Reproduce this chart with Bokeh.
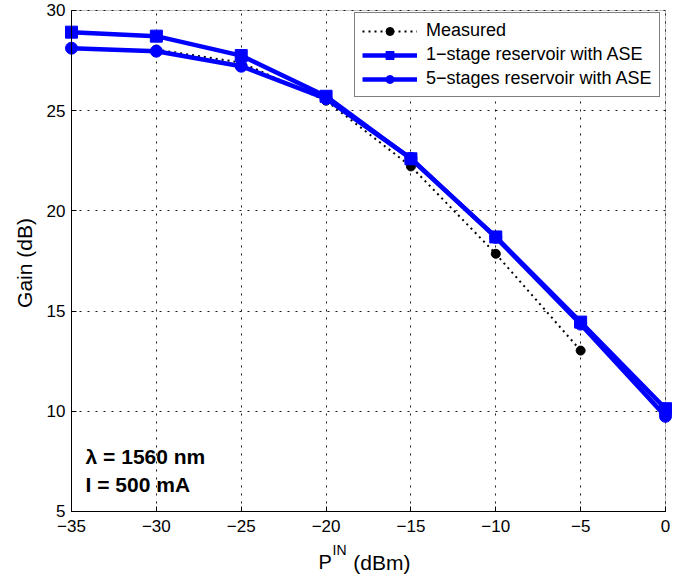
import math
from bokeh.plotting import figure
from bokeh.models import Label, Range1d, FixedTicker, Legend, BoxAnnotation
from bokeh.embed import file_html
from bokeh.resources import INLINE

# ---- data ----
p_in = [-35, -30, -25, -20, -15, -10, -5, 0]
gain_1stage = [28.92, 28.72, 27.75, 25.72, 22.6, 18.7, 14.45, 10.13]
gain_5stage = [28.12, 27.97, 27.22, 25.6, 22.62, 18.68, 14.35, 9.75]
p_meas = [-30, -25, -20, -15, -10, -5]
gain_meas = [28.05, 27.4, 25.5, 22.22, 17.86, 13.03]

x_ticks = [-35, -30, -25, -20, -15, -10, -5, 0]
x_tick_labels = ["\u221235", "\u221230", "\u221225", "\u221220", "\u221215", "\u221210", "\u22125", "0"]
y_ticks = [5, 10, 15, 20, 25, 30]
x_lim = (-35, 0)
y_lim = (5, 30)

FONT = "Liberation Sans"
BLUE = "#0000ff"

# The frame covers the whole page; the axes are pinned at the data limits so that
# the axis labels (one with a superscript) can be placed freely.
p = figure(frame_width=690, frame_height=575, output_backend="svg", toolbar_location=None,
           x_range=Range1d(-39.184, 1.473), y_range=Range1d(1.806, 30.499),
           min_border=0)
p.background_fill_color = "white"
p.border_fill_color = "white"
p.outline_line_color = None

# axes
p.xaxis.ticker = FixedTicker(ticks=x_ticks)
p.yaxis.ticker = FixedTicker(ticks=y_ticks)
p.xaxis.major_label_overrides = {t: l for t, l in zip(x_ticks, x_tick_labels)}
p.xaxis.fixed_location = y_lim[0]
p.yaxis.fixed_location = x_lim[0]
p.xaxis.bounds = x_lim
p.yaxis.bounds = y_lim
for ax in (p.xaxis[0], p.yaxis[0]):
    ax.axis_line_color = "black"
    ax.axis_line_width = 1
    ax.major_tick_in = 5
    ax.major_tick_out = 0
    ax.minor_tick_line_color = None
    ax.major_tick_line_color = "black"
    ax.major_label_text_font = FONT
    ax.major_label_text_font_size = "17px"
    ax.major_label_text_color = "black"
    ax.major_label_standoff = 6
p.xaxis.major_label_standoff = 9

# grid
for g in (p.xgrid[0], p.ygrid[0]):
    g.grid_line_color = "black"
    g.grid_line_dash = "2 6"
    g.grid_line_width = 1
    g.grid_line_alpha = 0.9
p.xgrid.ticker = FixedTicker(ticks=x_ticks)
p.ygrid.ticker = FixedTicker(ticks=y_ticks)
p.xgrid.bounds = x_lim
p.ygrid.bounds = y_lim
p.xgrid.cross_bounds = y_lim
p.ygrid.cross_bounds = x_lim

# top / right edges of the axes box
p.add_layout(BoxAnnotation(left=x_lim[0], right=x_lim[1], bottom=y_lim[0], top=y_lim[1],
                           fill_alpha=0, line_color="#333333", line_width=1, level="underlay"))

# series
m_line = p.line(p_meas, gain_meas, line_color="black", line_width=2, line_dash="2 4")
m_pts = p.scatter(p_meas, gain_meas, marker="circle", size=9, fill_color="black", line_color="black")

s1_line = p.line(p_in, gain_1stage, line_color=BLUE, line_width=4.5)
s1_pts = p.scatter(p_in, gain_1stage, marker="square", size=12, fill_color=BLUE, line_color=BLUE)

s5_line = p.line(p_in, gain_5stage, line_color=BLUE, line_width=4.5)
s5_pts = p.scatter(p_in, gain_5stage, marker="circle", size=12, fill_color=BLUE, line_color=BLUE)

legend = Legend(items=[
    ("Measured", [m_line, m_pts]),
    ("1\u2212stage reservoir with ASE", [s1_line, s1_pts]),
    ("5\u2212stages reservoir with ASE", [s5_line, s5_pts]),
], location=(354, 478))
legend.label_text_font = FONT
legend.label_text_font_size = "18px"
legend.label_text_color = "black"
legend.glyph_width = 55
legend.glyph_height = 20
legend.label_height = 19
legend.label_standoff = 9
legend.spacing = 3
legend.padding = 7
legend.margin = 0
legend.border_line_color = "black"
legend.border_line_width = 1
legend.background_fill_color = "white"
legend.background_fill_alpha = 1
p.add_layout(legend)

# annotations
p.add_layout(Label(x=-34.17, y=7.74, text="\u03bb = 1560 nm", text_font=FONT, text_font_size="21px",
                   text_font_style="bold", text_color="black", text_baseline="alphabetic"))
p.add_layout(Label(x=-34.17, y=6.35, text="I = 500 mA", text_font=FONT, text_font_size="21px",
                   text_font_style="bold", text_color="black", text_baseline="alphabetic"))

# y-axis label
p.add_layout(Label(x=-37.77, y=17.4, text="Gain (dB)", angle=math.pi / 2, text_font=FONT,
                   text_font_size="21px", text_color="black", text_align="center",
                   text_baseline="middle"))

# x-axis label with superscript
p.add_layout(Label(x=-20.45, y=2.46, text="P", text_font=FONT, text_font_size="20px",
                   text_color="black", text_baseline="alphabetic"))
p.add_layout(Label(x=-19.62, y=3.08, text="IN", text_font=FONT, text_font_size="14px",
                   text_color="black", text_baseline="alphabetic"))
p.add_layout(Label(x=-18.4, y=2.46, text="(dBm)", text_font=FONT, text_font_size="21px",
                   text_color="black", text_baseline="alphabetic"))

open("out.html", "w").write(file_html(p, INLINE))
